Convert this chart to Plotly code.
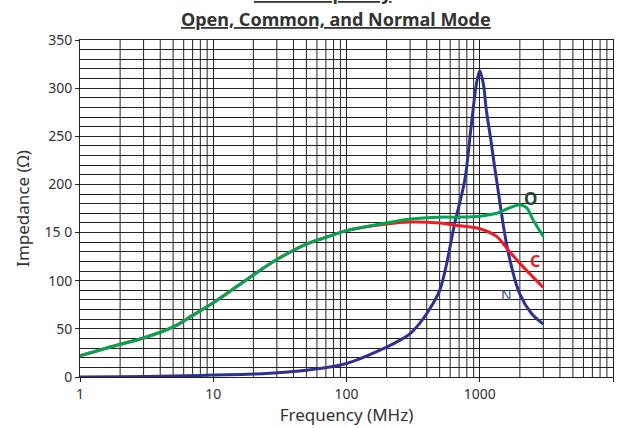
import plotly.graph_objects as go

# ---- data ----
freq_o = [1, 2, 3, 5, 7, 10, 20, 30, 50, 70, 100, 200, 300, 500, 700, 1000, 1336, 1633, 2000, 2244, 2515, 3000]
imp_o = [22, 34, 40.5, 52, 64, 77, 106, 122, 138, 145, 152, 160, 164, 166, 166, 167, 170, 175, 179, 176, 163, 146]

freq_c = [1, 2, 3, 5, 7, 10, 20, 30, 50, 70, 100, 200, 300, 500, 700, 1000, 1336, 1633, 2000, 2500, 3000]
imp_c = [22, 34, 40.5, 52, 64, 77, 106, 122, 138, 145, 152, 159, 161, 160, 157, 154, 146, 132, 118, 104, 93]

freq_n = [1, 2, 5, 10, 20, 50, 100, 200, 250, 300, 355, 400, 500, 650, 773, 850, 890, 946,
          1000, 1062, 1121, 1200, 1336, 1633, 2000, 2446, 3000]
imp_n = [0, 0.3, 1, 2, 3, 7, 14, 31, 38, 45, 56, 66, 90, 160, 205, 253, 277, 305,
         318, 305, 277, 250, 205, 130, 86, 66, 55]

y_tickvals = [0, 50, 100, 150, 200, 250, 300, 350]
y_ticktext = ["0", "50", "100", "15 0", "200", "250", "300", "350"]
x_tickvals = [1, 10, 100, 1000, 10000]
x_ticktext = ["1", "10", "100", "1000", "10000" + "&nbsp;" * 6]

title_line1 = "Z vs. Frequency"
title_line2 = "Open, Common, and Normal Mode"

FONT = "Noto Sans"
W, H = 629, 428
ML, MR, MT, MB = 80, 16, 40, 51
PH = H - MT - MB


def py(p):
    return (H - MB - p) / PH


fig = go.Figure()
fig.add_trace(go.Scatter(x=freq_n, y=imp_n, mode="lines",
                         line=dict(color="#2e3192", width=3, shape="spline", smoothing=1.0)))
fig.add_trace(go.Scatter(x=freq_c, y=imp_c, mode="lines",
                         line=dict(color="#ed1c24", width=3, shape="spline", smoothing=1.0)))
fig.add_trace(go.Scatter(x=freq_o, y=imp_o, mode="lines",
                         line=dict(color="#00a651", width=3, shape="spline", smoothing=1.0)))

# vertical minor grid lines (2..9 per decade)
shapes = []
for d in [1, 10, 100, 1000]:
    for k in range(2, 10):
        shapes.append(dict(type="line", xref="x", yref="paper", x0=k * d, x1=k * d, y0=0, y1=1,
                           line=dict(color="#222", width=1), layer="below"))

fig.update_layout(
    width=W, height=H,
    margin=dict(l=ML, r=MR, t=MT, b=MB),
    paper_bgcolor="white", plot_bgcolor="white",
    showlegend=False,
    font=dict(family=FONT, color="#333"),
    shapes=shapes,
    xaxis=dict(
        type="log", range=[0, 4],
        tickvals=x_tickvals, ticktext=x_ticktext,
        tickfont=dict(size=14, color="#333"),
        ticks="outside", ticklen=4, tickcolor="#222",
        showgrid=True, gridcolor="#222", gridwidth=1,
        showline=True, linecolor="#222", linewidth=1, mirror=True,
        zeroline=False,
        title=dict(text="Frequency (MHz)", font=dict(size=17, color="#333"), standoff=5),
        automargin=False,
    ),
    yaxis=dict(
        range=[0, 350],
        tickvals=y_tickvals, ticktext=y_ticktext,
        tickfont=dict(size=14, color="#333"),
        ticks="outside", ticklen=4, tickcolor="#222",
        showgrid=True, gridcolor="#222", gridwidth=1,
        minor=dict(dtick=10, showgrid=True, gridcolor="#222", gridwidth=1, ticks=""),
        showline=True, linecolor="#222", linewidth=1, mirror=True,
        zeroline=False,
        title=dict(text="Impedance (Ω)", font=dict(size=17, color="#333"), standoff=10),
        automargin=False,
    ),
    annotations=[
        dict(text="<b>" + title_line1 + "</b>", xref="paper", yref="paper", x=(323 - ML) / (W - ML - MR),
             y=py(-7), xanchor="center", yanchor="middle", showarrow=False,
             font=dict(size=18, color="#333", family=FONT, lineposition="under")),
        dict(text="<b>" + title_line2 + "</b>", xref="paper", yref="paper", x=(336 - ML) / (W - ML - MR),
             y=py(19), xanchor="center", yanchor="middle", showarrow=False,
             font=dict(size=18, color="#333", family=FONT, lineposition="under")),
        dict(text="<b>O</b>", x=3.383, y=185, xref="x", yref="y", showarrow=False,
             font=dict(size=17, color="#1d4a30", family=FONT)),
        dict(text="<b>C</b>", x=3.413, y=120, xref="x", yref="y", showarrow=False,
             font=dict(size=16, color="#ed1c24", family=FONT)),
        dict(text="N", x=3.203, y=86, xref="x", yref="y", showarrow=False,
             font=dict(size=14, color="#3b4ba8", family=FONT)),
    ],
)

fig.write_html("out.html", config={"displayModeBar": False},
               post_script="document.body.style.margin='0';")
